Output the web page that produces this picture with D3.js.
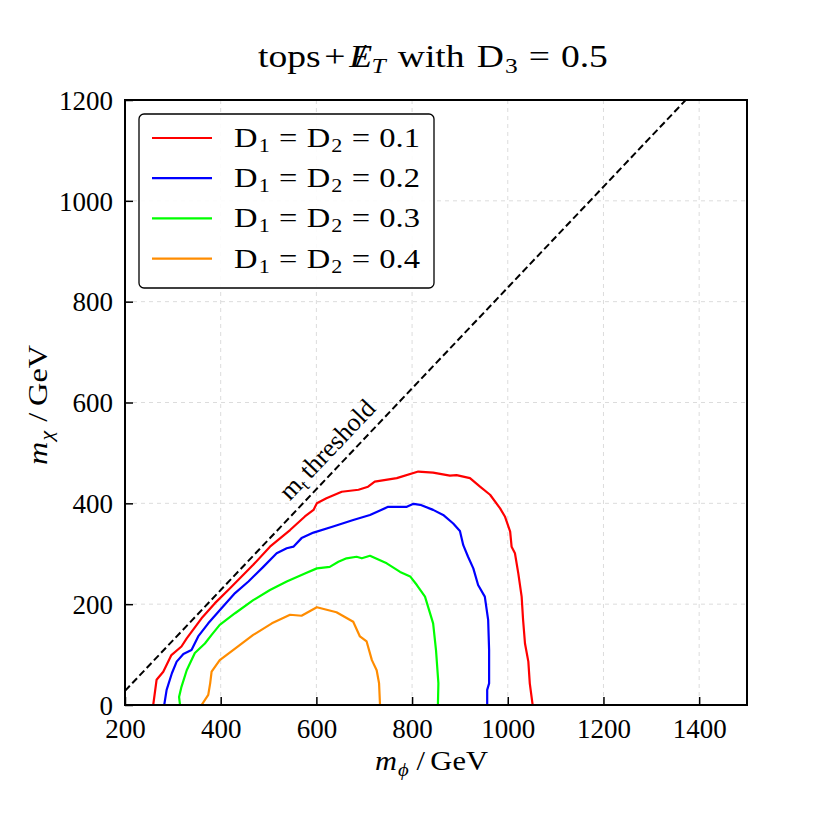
<!DOCTYPE html>
<html><head><meta charset="utf-8">
<script src="https://cdn.jsdelivr.net/npm/d3@7"></script>
<style>
html,body{margin:0;padding:0;background:#fff;}
svg{display:block;}
text{font-family:"Liberation Serif","DejaVu Serif",serif;fill:#000;}
</style></head>
<body>
<svg id="chart" width="830" height="830"></svg>
<script>
// ---- data (m_phi [GeV], m_chi [GeV]) ----
const xTicks = [200, 400, 600, 800, 1000, 1200, 1400];
const yTicks = [0, 200, 400, 600, 800, 1000, 1200];
const legendLabels = ["0.1", "0.2", "0.3", "0.4"];
const seriesColors = ["#ff0000", "#0000ff", "#00ff00", "#ff8c00"];
const topMass = 172;

const redX = [259,266,280,297,318,329,360,388,419,468,503,545,576,594,601,621,653,688,708,722,768,813,844,879,893,921,942,963,984,994,1005,1008,1015,1022,1029,1032,1036,1043,1046,1052];
const redY = [0,50,66,99,116,132,172,202,231,278,314,347,374,387,400,410,423,427,433,443,450,463,461,455,456,450,433,417,390,374,344,314,301,261,215,169,122,86,43,0];

const blueX = [282,287,298,308,322,339,353,374,398,430,458,489,517,538,552,569,594,635,677,712,750,789,803,817,844,865,886,900,907,917,928,938,952,959,961,961,957,957];
const blueY = [0,30,63,86,101,109,136,162,188,222,245,274,301,311,314,331,342,354,367,377,393,393,399,397,387,377,360,345,317,294,271,238,215,169,109,43,30,0];

const greenX = [315,313,318,329,346,367,381,398,430,468,503,538,576,601,628,646,663,684,695,712,747,775,796,810,827,844,850,855,854];
const greenY = [0,16,36,69,103,122,139,159,182,208,228,245,261,271,274,284,291,294,291,296,281,264,255,238,215,162,109,43,0];

const orangeX = [360,374,378,381,398,430,468,507,545,569,601,642,677,691,705,716,726,731,733];
const orangeY = [0,20,43,66,89,112,139,162,179,177,194,184,165,136,126,89,69,43,0];

const seriesX = [redX, blueX, greenX, orangeX];
const seriesY = [redY, blueY, greenY, orangeY];

// ---- layout ----
const svg = d3.select("#chart");
const L = 125, R = 747, T = 100, B = 705;
const x = d3.scaleLinear().domain([200, 1500]).range([L, R]);
const y = d3.scaleLinear().domain([0, 1200]).range([B, T]);
const FS = 27;

// stretch a text horizontally so its ink spans [x0, x0+w] (mimics the wider TeX font)
function fit(sel, x0, w) {
  const bb = sel.node().getBBox();
  const s = w / bb.width;
  sel.attr("transform", `translate(${x0},0) scale(${s},1) translate(${-bb.x},0)`);
}

svg.append("defs").append("clipPath").attr("id", "clip")
  .append("rect").attr("x", L).attr("y", T).attr("width", R - L).attr("height", B - T);

// grid
const grid = svg.append("g").attr("stroke", "#dcdcdc").attr("stroke-width", 1).attr("stroke-dasharray", "4,4");
xTicks.filter(v => v > 200).forEach(v => grid.append("line").attr("x1", x(v)).attr("x2", x(v)).attr("y1", T).attr("y2", B));
yTicks.filter(v => v > 0 && v < 1200).forEach(v => grid.append("line").attr("x1", L).attr("x2", R).attr("y1", y(v)).attr("y2", y(v)));

// threshold line
const plot = svg.append("g").attr("clip-path", "url(#clip)");
const thrX = [200, 1500];
plot.append("line")
  .attr("x1", x(thrX[0])).attr("y1", y(thrX[0] - topMass))
  .attr("x2", x(thrX[1])).attr("y2", y(thrX[1] - topMass))
  .attr("stroke", "#000").attr("stroke-width", 2).attr("stroke-dasharray", "7,3.5");

// contours
const line = d3.line().x(d => x(d[0])).y(d => y(d[1]));
seriesX.forEach((xs, i) => {
  const pts = xs.map((v, j) => [v, seriesY[i][j]]);
  plot.append("path").attr("d", line(pts)).attr("fill", "none")
    .attr("stroke", seriesColors[i]).attr("stroke-width", 2.2).attr("stroke-linejoin", "round");
});

// threshold label
const ang = -Math.atan2(y(0) - y(1000), x(1000) - x(0)) * 180 / Math.PI;
const lx = x(652), ly = y(652 - topMass);
const tl = svg.append("text").attr("transform", `translate(${lx},${ly}) rotate(${ang})`)
  .attr("text-anchor", "middle").attr("dy", "-0.42em").attr("font-size", 26);
tl.append("tspan").text("m");
tl.append("tspan").attr("font-size", 17).attr("dy", 5).text("t");
tl.append("tspan").attr("dy", -5).attr("dx", 5).text("threshold");

// axes
svg.append("g").attr("transform", `translate(0,${B})`)
  .call(d3.axisBottom(x).tickValues(xTicks).tickSize(-8).tickPadding(14).tickFormat(d3.format("d")))
  .call(g => { g.select(".domain").remove(); g.selectAll("line").attr("stroke-width", 1.5); g.selectAll("text").attr("font-size", FS); });
svg.append("g").attr("transform", `translate(${L},0)`)
  .call(d3.axisLeft(y).tickValues(yTicks).tickSize(-8).tickPadding(12).tickFormat(d3.format("d")))
  .call(g => { g.select(".domain").remove(); g.selectAll("line").attr("stroke-width", 1.5); g.selectAll("text").attr("font-size", FS).attr("dy", "0.34em"); });
svg.append("rect").attr("x", L).attr("y", T).attr("width", R - L).attr("height", B - T)
  .attr("fill", "none").attr("stroke", "#000").attr("stroke-width", 2);

// axis titles
const xl = svg.append("text").attr("y", 770).attr("font-size", 28);
xl.append("tspan").attr("font-style", "italic").text("m");
xl.append("tspan").attr("font-style", "italic").attr("font-size", 19).attr("dy", 6).attr("dx", 1).text("ϕ");
xl.append("tspan").attr("dy", -6).attr("dx", 7).text("/");
xl.append("tspan").attr("dx", 5).text("GeV");
fit(xl, 375, 113);

const ylg = svg.append("g").attr("transform", "translate(47,0) rotate(-90)");
const yl = ylg.append("text").attr("y", 0).attr("font-size", 28);
yl.append("tspan").attr("font-style", "italic").text("m");
yl.append("tspan").attr("font-style", "italic").attr("font-size", 19).attr("dy", 6).attr("dx", 1).text("χ");
yl.append("tspan").attr("dy", -6).attr("dx", 8).text("/");
yl.append("tspan").attr("dx", 6).text("GeV");
fit(yl, -465, 120);

// title
const tt = svg.append("text").attr("y", 67).attr("font-size", 31);
tt.append("tspan").text("tops");
tt.append("tspan").attr("dx", 3).text("+");
tt.append("tspan").attr("dx", 3).attr("font-style", "italic").text("E");
tt.append("tspan").attr("dx", -14).attr("font-size", 34).text("/");
tt.append("tspan").attr("font-style", "italic").attr("font-size", 21).attr("dy", 6).attr("dx", 4).text("T");
tt.append("tspan").attr("dy", -6).attr("dx", 10).text("with");
tt.append("tspan").attr("dx", 10).text("D");
tt.append("tspan").attr("font-size", 21).attr("dy", 6).attr("dx", 1).text("3");
tt.append("tspan").attr("dy", -6).attr("dx", 9).text("=");
tt.append("tspan").attr("dx", 9).text("0.5");
fit(tt, 258, 350);

// legend
const lg = svg.append("g");
lg.append("rect").attr("x", 139).attr("y", 114).attr("width", 295).attr("height", 174)
  .attr("rx", 5).attr("fill", "#fff").attr("fill-opacity", 0.9).attr("stroke", "#000").attr("stroke-width", 1.3);
legendLabels.forEach((lab, i) => {
  const yy = 138 + i * 40.2;
  lg.append("line").attr("x1", 152).attr("x2", 212).attr("y1", yy).attr("y2", yy)
    .attr("stroke", seriesColors[i]).attr("stroke-width", 2.2);
  const t = lg.append("text").attr("y", yy + 9).attr("font-size", 28);
  t.append("tspan").text("D");
  t.append("tspan").attr("font-size", 19).attr("dy", 5).attr("dx", 1).text("1");
  t.append("tspan").attr("dy", -5).attr("dx", 8).text("=");
  t.append("tspan").attr("dx", 8).text("D");
  t.append("tspan").attr("font-size", 19).attr("dy", 5).attr("dx", 1).text("2");
  t.append("tspan").attr("dy", -5).attr("dx", 8).text("=");
  t.append("tspan").attr("dx", 8).text(lab);
  fit(t, 234, 186);
});
</script>
</body></html>
